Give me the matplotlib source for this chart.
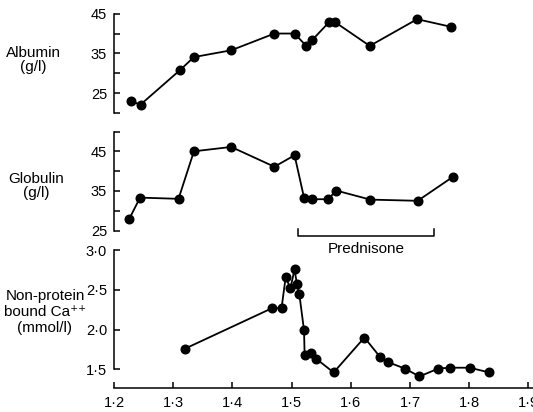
import numpy as np
import matplotlib
matplotlib.use("Agg")
import matplotlib.pyplot as plt

plt.rcParams['font.family'] = ['Liberation Sans', 'DejaVu Sans']

# albumin (g/l)
alb_x = [1.228, 1.245, 1.312, 1.335, 1.398, 1.471, 1.505, 1.524, 1.535, 1.563, 1.574, 1.632, 1.712, 1.769]
alb_y = [23.0, 22.2, 30.9, 34.1, 35.8, 40.0, 40.0, 37.0, 38.4, 42.8, 42.8, 36.9, 43.6, 41.7]

# globulin (g/l)
glob_x = [1.226, 1.244, 1.309, 1.335, 1.398, 1.471, 1.505, 1.521, 1.534, 1.562, 1.575, 1.633, 1.713, 1.772]
glob_y = [28.0, 33.3, 33.0, 45.0, 46.1, 41.1, 44.0, 33.3, 32.9, 32.9, 35.1, 32.8, 32.5, 38.5]

# non-protein bound Ca++ (mmol/l)
ca_x = [1.320, 1.467, 1.483, 1.490, 1.498, 1.505, 1.509, 1.513, 1.521, 1.522, 1.532, 1.542,
        1.571, 1.623, 1.650, 1.663, 1.691, 1.716, 1.748, 1.767, 1.801, 1.834]
ca_y = [1.76, 2.27, 2.27, 2.66, 2.52, 2.76, 2.57, 2.45, 1.99, 1.68, 1.70, 1.63,
        1.46, 1.90, 1.65, 1.59, 1.51, 1.41, 1.51, 1.52, 1.52, 1.46]

x_ticks = [1.2, 1.3, 1.4, 1.5, 1.6, 1.7, 1.8, 1.9]
x_labels = ['1·2', '1·3', '1·4', '1·5', '1·6', '1·7', '1·8', '1·9']
pred_start, pred_end = 1.511, 1.740

W, H = 533, 412
fig = plt.figure(figsize=(W / 100, H / 100), dpi=100)

left = 114 / W
xlim = (1.2, 1.2 + (W - 114) / 592)


def make_ax(top_px, bot_px):
    ax = fig.add_axes([left, 1 - bot_px / H, 1 - left, (bot_px - top_px) / H])
    for s in ['top', 'right', 'bottom']:
        ax.spines[s].set_visible(False)
    ax.spines['left'].set_linewidth(1.1)
    ax.set_xlim(*xlim)
    ax.set_xticks([])
    ax.tick_params(axis='y', direction='in', length=4, width=1.1, pad=5, labelsize=10.5)
    ax.patch.set_alpha(0)
    return ax


style = dict(color='black', lw=1.3, marker='o', ms=6.2, mfc='black', mec='black', clip_on=False)

ax1 = make_ax(13.6, 113.3)
ax1.plot(alb_x, alb_y, **style)
ax1.set_ylim(20, 45)
ax1.set_yticks([20, 25, 30, 35, 40, 45])
ax1.set_yticklabels(['', '25', '', '35', '', '45'])

ax2 = make_ax(131.5, 230.5)
ax2.plot(glob_x, glob_y, **style)
ax2.set_ylim(25, 50)
ax2.set_yticks([25, 30, 35, 40, 45, 50])
ax2.set_yticklabels(['25', '', '35', '', '45', ''])

# prednisone bracket under the globulin panel
ax2.plot([pred_start, pred_start, pred_end, pred_end], [25.4, 23.7, 23.7, 25.4],
         color='black', lw=1.1, clip_on=False)
ax2.text((pred_start + pred_end) / 2, 20.3, 'Prednisone', ha='center', va='center', fontsize=11)

ax3 = make_ax(250.2, 388)
ax3.plot(ca_x, ca_y, **style)
ax3.set_ylim(1.5 - (388 - 369.3) / 79.4, 3.0)
ax3.spines['left'].set_bounds(1.5, 3.0)
ax3.set_yticks([1.5, 2.0, 2.5, 3.0])
ax3.set_yticklabels(['1·5', '2·0', '2·5', '3·0'])
ax3.spines['bottom'].set_visible(True)
ax3.spines['bottom'].set_linewidth(1.1)
ax3.set_xticks(x_ticks)
ax3.set_xticklabels(x_labels)
ax3.tick_params(axis='x', direction='in', length=4, width=1.1, pad=6, labelsize=10.5)

fig.text(33 / W, 1 - 60 / H, 'Albumin\n(g/l)', ha='center', va='center', fontsize=11, linespacing=1.0)
fig.text(36 / W, 1 - 186 / H, 'Globulin\n(g/l)', ha='center', va='center', fontsize=11, linespacing=1.0)
fig.text(45 / W, 1 - 312 / H, 'Non-protein\nbound Ca⁺⁺\n(mmol/l)', ha='center', va='center',
         fontsize=11, linespacing=1.2)

fig.savefig('out.png', dpi=100)
